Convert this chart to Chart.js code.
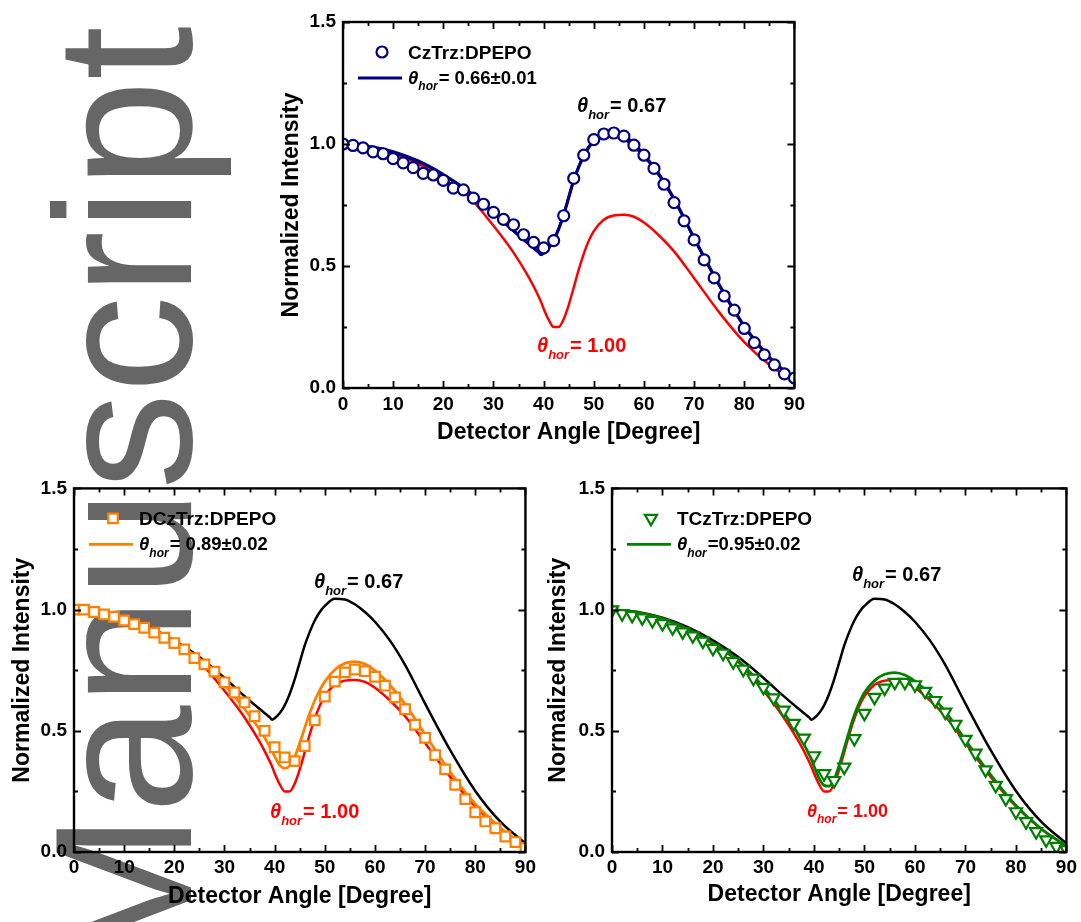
<!DOCTYPE html>
<html><head><meta charset="utf-8">
<script src="https://cdn.jsdelivr.net/npm/chart.js@4.4.1/dist/chart.umd.min.js"></script>
<style>
html,body{margin:0;padding:0;background:#fff;width:1081px;height:922px;overflow:hidden;}
canvas{position:absolute;}
#wm{position:absolute;left:27px;top:975px;font-family:"Liberation Sans",Arial,sans-serif;font-size:194px;line-height:194px;color:#666;white-space:nowrap;transform-origin:0 0;transform:rotate(-90deg);}
</style></head><body>
<div id="wm">Manuscript</div>
<canvas id="c1" width="540" height="462" style="left:270px;top:0px"></canvas>
<canvas id="c2" width="540" height="452" style="left:0px;top:470px"></canvas>
<canvas id="c3" width="541" height="452" style="left:540px;top:470px"></canvas>
<script>
// ---------- data ----------
const xTickValues = [0,10,20,30,40,50,60,70,80,90];
const xTickLabels = ['0','10','20','30','40','50','60','70','80','90'];
const yTickValues = [0,0.5,1.0,1.5];
const yTickLabels = ['0.0','0.5','1.0','1.5'];
const xTitle = 'Detector Angle [Degree]';
const yTitle = 'Normalized Intensity';

const markerAngles = [0,2,4,6,8,10,12,14,16,18,20,22,24,26,28,30,32,34,36,38,40,42,44,46,48,50,52,54,56,58,60,62,64,66,68,70,72,74,76,78,80,82,84,86,88,90];
const czTrzMeasured = [1.000,0.994,0.984,0.968,0.960,0.940,0.923,0.903,0.880,0.873,0.851,0.819,0.812,0.778,0.753,0.720,0.691,0.669,0.628,0.597,0.574,0.604,0.706,0.859,0.954,1.018,1.041,1.045,1.032,0.995,0.954,0.900,0.835,0.760,0.685,0.607,0.525,0.451,0.377,0.319,0.244,0.186,0.136,0.095,0.058,0.041];
const dczTrzMeasured = [1.000,1.000,0.990,0.980,0.970,0.955,0.940,0.925,0.905,0.884,0.862,0.836,0.800,0.774,0.744,0.700,0.658,0.617,0.560,0.500,0.432,0.390,0.375,0.437,0.543,0.641,0.703,0.741,0.753,0.746,0.723,0.686,0.638,0.589,0.525,0.471,0.400,0.341,0.277,0.218,0.164,0.126,0.098,0.064,0.041,0.016];
const tczTrzMeasured = [0.999,0.983,0.976,0.966,0.955,0.942,0.925,0.908,0.892,0.870,0.840,0.820,0.785,0.754,0.717,0.679,0.636,0.585,0.531,0.470,0.397,0.323,0.295,0.350,0.468,0.572,0.638,0.676,0.700,0.700,0.690,0.663,0.625,0.577,0.527,0.465,0.408,0.339,0.275,0.220,0.166,0.125,0.084,0.050,0.023,0.010];

const curveAngles = [0,5,10,15,20,25,30,34,37,39,39.5,40,41,42,43,44,45,46,47,48,49,50,52,54,56,58,60,63,66,70,75,80,85,90];
const theta067 = [1.000,0.990,0.967,0.928,0.873,0.804,0.718,0.643,0.590,0.556,0.546,0.552,0.572,0.605,0.652,0.712,0.782,0.852,0.908,0.955,0.990,1.015,1.045,1.042,1.022,0.990,0.950,0.872,0.772,0.612,0.420,0.252,0.125,0.035];
const theta100 = [1.000,0.988,0.962,0.918,0.858,0.785,0.665,0.555,0.455,0.375,0.352,0.325,0.280,0.250,0.250,0.282,0.340,0.412,0.485,0.550,0.603,0.643,0.690,0.707,0.710,0.702,0.678,0.625,0.560,0.450,0.310,0.188,0.095,0.025];
const fitCz066 = [1.000,0.990,0.968,0.930,0.875,0.806,0.720,0.645,0.592,0.557,0.547,0.553,0.574,0.606,0.652,0.710,0.781,0.851,0.906,0.951,0.986,1.012,1.047,1.053,1.035,1.000,0.956,0.876,0.776,0.615,0.423,0.254,0.126,0.035];
const fitDcz089 = [1.000,0.989,0.964,0.922,0.866,0.795,0.690,0.590,0.505,0.435,0.415,0.395,0.358,0.345,0.355,0.392,0.448,0.512,0.573,0.625,0.668,0.703,0.752,0.778,0.785,0.775,0.748,0.688,0.610,0.485,0.330,0.198,0.100,0.022];
const fitTcz095 = [1.000,0.989,0.963,0.920,0.862,0.790,0.680,0.575,0.482,0.405,0.382,0.355,0.305,0.275,0.272,0.300,0.358,0.428,0.500,0.565,0.617,0.658,0.707,0.733,0.740,0.730,0.705,0.650,0.580,0.462,0.318,0.192,0.096,0.024];

// ---------- helpers ----------
const FONT = '"Liberation Sans", Arial, sans-serif';
Chart.defaults.font.family = FONT;
const pts = (xs, ys) => xs.map((x, i) => ({x: x, y: ys[i]}));

function lineSet(ys, color, width) {
  return {data: pts(curveAngles, ys), showLine: true, borderColor: color, borderWidth: width,
          pointRadius: 0, pointHoverRadius: 0, fill: false, cubicInterpolationMode: 'monotone'};
}
function markerSet(ys, color, style, radius, rotation) {
  return {data: pts(markerAngles, ys), showLine: false, pointStyle: style, pointRadius: radius,
          pointRotation: rotation || 0, pointBorderWidth: 2.2, pointBorderColor: color,
          pointBackgroundColor: '#ffffff', borderColor: color, backgroundColor: '#ffffff'};
}

function drawMarker(ctx, style, x, y, r, color) {
  ctx.save();
  ctx.strokeStyle = color; ctx.fillStyle = '#fff'; ctx.lineWidth = 2.2;
  ctx.beginPath();
  if (style === 'circle') {
    ctx.arc(x, y, r, 0, Math.PI * 2);
  } else if (style === 'rect') {
    const s = r / Math.SQRT2;
    ctx.rect(x - s, y - s, 2 * s, 2 * s);
  } else {
    for (let k = 0; k < 3; k++) {
      const a = Math.PI + k * 2 * Math.PI / 3;
      const px = x + Math.sin(a) * r, py = y - Math.cos(a) * r;
      if (k === 0) ctx.moveTo(px, py); else ctx.lineTo(px, py);
    }
    ctx.closePath();
  }
  ctx.fill(); ctx.stroke();
  ctx.restore();
}

function thetaLabel(ctx, x, y, size, color, rest) {
  ctx.save();
  ctx.fillStyle = color; ctx.textBaseline = 'alphabetic'; ctx.textAlign = 'left';
  ctx.font = 'italic bold ' + size + 'px ' + FONT;
  ctx.fillText('\u03B8', x, y);
  const tw = ctx.measureText('\u03B8').width;
  const sub = Math.round(size * 0.65);
  ctx.font = 'italic bold ' + sub + 'px ' + FONT;
  const sx = x + tw;
  ctx.fillText('hor', sx, y + size * 0.33);
  const sw = ctx.measureText('hor').width;
  ctx.font = 'bold ' + size + 'px ' + FONT;
  ctx.fillText(rest, sx + sw + 1, y);
  ctx.restore();
}

function decorPlugin(cfg) {
  return {
    id: 'decor',
    afterDatasetsDraw(chart) {
      const ctx = chart.ctx, a = chart.chartArea, xs = chart.scales.x, ys = chart.scales.y;
      ctx.save();
      ctx.strokeStyle = '#000';
      ctx.lineWidth = 1.8;
      ctx.beginPath();
      for (let v = xTickValues[0]; v <= xTickValues[xTickValues.length - 1] + 1e-9; v += 5) {
        const px = Math.round(xs.getPixelForValue(v)) + 0.5;
        const len = (Math.abs(v % 10) < 1e-9) ? 7 : 4;
        ctx.moveTo(px, a.bottom); ctx.lineTo(px, a.bottom - len);
        ctx.moveTo(px, a.top); ctx.lineTo(px, a.top + len);
      }
      for (let v = yTickValues[0]; v <= yTickValues[yTickValues.length - 1] + 1e-9; v += 0.25) {
        const py = Math.round(ys.getPixelForValue(v)) + 0.5;
        const len = (Math.abs((v / 0.5) - Math.round(v / 0.5)) < 1e-9) ? 7 : 4;
        ctx.moveTo(a.left, py); ctx.lineTo(a.left + len, py);
        ctx.moveTo(a.right, py); ctx.lineTo(a.right - len, py);
      }
      ctx.stroke();
      ctx.lineWidth = 2.4;
      ctx.strokeRect(a.left, a.top, a.right - a.left, a.bottom - a.top);
      ctx.restore();

      // legend
      const L = cfg.legend;
      drawMarker(ctx, L.style, a.left + 39, a.top + 30, L.radius, L.color);
      ctx.save();
      ctx.fillStyle = '#000'; ctx.font = 'bold 19px ' + FONT; ctx.textBaseline = 'alphabetic';
      ctx.fillText(L.name, a.left + 65, a.top + 37);
      ctx.strokeStyle = L.color; ctx.lineWidth = L.lineWidth;
      ctx.beginPath(); ctx.moveTo(a.left + 15, a.top + 56); ctx.lineTo(a.left + 59, a.top + 56); ctx.stroke();
      ctx.restore();
      thetaLabel(ctx, a.left + 65, a.top + 62, 18.5, '#000', L.fitText);

      cfg.annotations.forEach(n => thetaLabel(ctx, a.left + n.dx, a.top + n.dy, n.size, n.color, n.text));
    }
  };
}

function makeChart(id, cfg) {
  return new Chart(document.getElementById(id), {
    type: 'scatter',
    data: {datasets: cfg.datasets},
    options: {
      responsive: false, animation: false, devicePixelRatio: 1,
      layout: {padding: cfg.padding},
      plugins: {legend: {display: false}, tooltip: {enabled: false}},
      events: [],
      scales: {
        x: {
          type: 'linear', min: 0, max: 90,
          grid: {display: false, drawTicks: false}, border: {display: false},
          afterFit: s => { s.height = cfg.xHeight; },
          ticks: {stepSize: 10, autoSkip: false, maxRotation: 0, padding: cfg.xTickPad, color: '#000',
                  font: {size: 19, weight: 'bold'},
                  callback: v => { const i = xTickValues.indexOf(v); return i >= 0 ? xTickLabels[i] : ''; }},
          title: {display: true, text: xTitle, color: '#000', font: {size: 23, weight: 'bold'},
                  padding: {top: 0, bottom: cfg.xTitlePad}}
        },
        y: {
          type: 'linear', min: 0, max: 1.5,
          grid: {display: false, drawTicks: false}, border: {display: false},
          afterFit: s => { s.width = cfg.yWidth; },
          ticks: {stepSize: 0.5, autoSkip: false, padding: cfg.yTickPad, color: '#000',
                  font: {size: 19, weight: 'bold'},
                  callback: v => { const i = yTickValues.findIndex(t => Math.abs(t - v) < 1e-9); return i >= 0 ? yTickLabels[i] : ''; }},
          title: {display: true, text: yTitle, color: '#000', font: {size: 23, weight: 'bold'},
                  padding: {top: cfg.yTitlePad, bottom: 0}}
        }
      }
    },
    plugins: [decorPlugin(cfg)]
  });
}

makeChart('c1', {
  padding: {left: 0, top: 22, right: 13, bottom: 0}, yWidth: 73, xHeight: 74,
  xTickPad: 5, yTickPad: 7, yTitlePad: 8, xTitlePad: 16,
  datasets: [
    markerSet(czTrzMeasured, '#000080', 'circle', 5.5),
    lineSet(fitCz066, '#000080', 3.2),
    lineSet(theta067, '#000000', 2.5),
    lineSet(theta100, '#ff0000', 2.5)
  ],
  legend: {style: 'circle', radius: 5.5, color: '#000080', lineWidth: 3, name: 'CzTrz:DPEPO', fitText: '= 0.66\u00B10.01'},
  annotations: [
    {dx: 234, dy: 90, size: 20, color: '#000', text: '= 0.67'},
    {dx: 194, dy: 330, size: 20, color: '#ff0000', text: '= 1.00'}
  ]
});

makeChart('c2', {
  padding: {left: 0, top: 13, right: 10, bottom: 0}, yWidth: 74, xHeight: 70,
  xTickPad: 4, yTickPad: 7, yTitlePad: 9, xTitlePad: 12,
  datasets: [
    markerSet(dczTrzMeasured, '#ff8000', 'rect', 6.8),
    lineSet(fitDcz089, '#ff8000', 2.8),
    lineSet(theta100, '#ff0000', 2.5),
    lineSet(theta067, '#000000', 2.5)
  ],
  legend: {style: 'rect', radius: 6.8, color: '#ff8000', lineWidth: 2.8, name: 'DCzTrz:DPEPO', fitText: '= 0.89\u00B10.02'},
  annotations: [
    {dx: 240, dy: 100, size: 20, color: '#000', text: '= 0.67'},
    {dx: 196, dy: 330, size: 20, color: '#ff0000', text: '= 1.00'}
  ]
});

makeChart('c3', {
  padding: {left: 0, top: 13, right: 13, bottom: 0}, yWidth: 72, xHeight: 70,
  xTickPad: 4, yTickPad: 7, yTitlePad: 5, xTitlePad: 14,
  datasets: [
    markerSet(tczTrzMeasured, '#008000', 'triangle', 7, 180),
    lineSet(fitTcz095, '#008000', 2.8),
    lineSet(theta100, '#ff0000', 2.5),
    lineSet(theta067, '#000000', 2.5)
  ],
  legend: {style: 'triangle', radius: 7, color: '#008000', lineWidth: 2.8, name: 'TCzTrz:DPEPO', fitText: '=0.95\u00B10.02'},
  annotations: [
    {dx: 240, dy: 93, size: 20, color: '#000', text: '= 0.67'},
    {dx: 195, dy: 329, size: 18, color: '#ff0000', text: '= 1.00'}
  ]
});
</script>
</body></html>
